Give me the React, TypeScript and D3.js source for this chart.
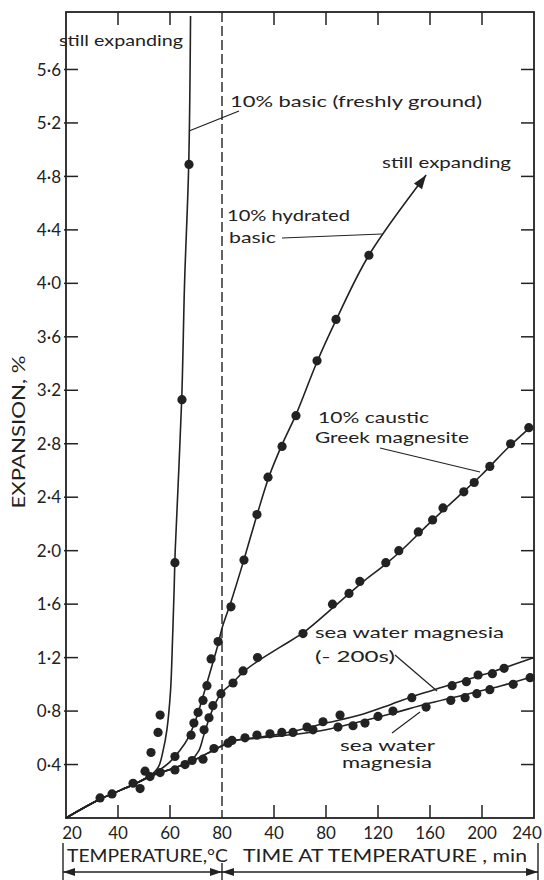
import React from "react";
import * as d3 from "d3";

const W = 544;
const H = 880;

// ---- axis ticks ----
const yTicks = [0.4, 0.8, 1.2, 1.6, 2.0, 2.4, 2.8, 3.2, 3.6, 4.0, 4.4, 4.8, 5.2, 5.6];
const yTickLabels = ["0·4", "0·8", "1·2", "1·6", "2·0", "2·4", "2·8", "3·2", "3·6", "4·0", "4·4", "4·8", "5·2", "5·6"];
const tempTicks = [20, 40, 60, 80];
const timeTicks = [40, 80, 120, 160, 200, 240];

type P = [number, number];

// ---- curves: heating phase (x = °C) then holding phase (x = min) ----
const basicLineHeat: P[] = [[20, 0], [33, 0.14], [46, 0.25], [52, 0.31], [55.5, 0.38], [57.3, 0.5], [58.8, 0.66], [60.2, 0.95], [61, 1.35], [61.6, 1.72], [62, 2.0], [64.5, 3.13], [65.6, 4.0], [67.2, 4.89], [67.9, 6.0]];
const basicPtsHeat: P[] = [[52.7, 0.49], [55.4, 0.64], [56.2, 0.77], [61.9, 1.91], [64.6, 3.13], [67.3, 4.89]];

const hydratedLineHeat: P[] = [[20, 0], [33, 0.14], [46, 0.25], [52, 0.31], [56, 0.36], [60, 0.42], [64, 0.51], [67, 0.6], [70, 0.74], [73, 0.93], [76, 1.13], [78.5, 1.3], [80, 1.42]];
const hydratedLineHold: P[] = [[7, 1.62], [16.5, 1.92], [27, 2.27], [36, 2.55], [46, 2.79], [57, 3.02], [73, 3.41], [88, 3.73], [113, 4.21], [157, 4.81]];
const hydratedPtsHeat: P[] = [[61.9, 0.46], [68.1, 0.62], [69.2, 0.71], [70.8, 0.79], [72.7, 0.88], [74.2, 0.99], [75.8, 1.19], [78.5, 1.32]];
const hydratedPtsHold: P[] = [[6.9, 1.58], [16.9, 1.93], [26.9, 2.27], [35.4, 2.55], [46.2, 2.78], [56.9, 3.01], [73.1, 3.42], [87.7, 3.73], [113, 4.21]];

const greekLineHeat: P[] = [[20, 0], [33, 0.14], [46, 0.25], [52, 0.31], [58, 0.35], [64, 0.39], [68, 0.43], [71, 0.5], [73, 0.62], [75, 0.74], [77, 0.84], [80, 0.94]];
const greekLineHold: P[] = [[8, 1.01], [16, 1.09], [27, 1.17], [45, 1.28], [63, 1.39], [85, 1.57], [98, 1.68], [110, 1.78], [126, 1.9], [140, 2.02], [160, 2.21], [180, 2.39], [200, 2.57], [220, 2.77], [238, 2.93]];
const greekPtsHeat: P[] = [[73.1, 0.66], [75, 0.75], [76.5, 0.84], [79.6, 0.93]];
const greekPtsHold: P[] = [[8.5, 1.01], [16.2, 1.1], [27.3, 1.2], [62.3, 1.38], [85, 1.6], [97.7, 1.68], [106, 1.77], [126, 1.91], [136, 2.0], [151, 2.14], [162, 2.23], [170, 2.32], [186, 2.44], [194, 2.51], [206, 2.63], [222, 2.8], [236, 2.92]];

const seaLineHeat: P[] = [[20, 0], [33, 0.14], [46, 0.25], [52, 0.31], [58, 0.35], [64, 0.39], [70, 0.44], [76, 0.5], [80, 0.54]];
const sea200LineHold: P[] = [[10, 0.58], [25, 0.6], [40, 0.62], [60, 0.66], [80, 0.71], [106, 0.77], [130, 0.85], [150, 0.92], [170, 0.98], [190, 1.04], [210, 1.1], [240, 1.2]];
const seaLineHold: P[] = [[10, 0.58], [25, 0.595], [40, 0.61], [60, 0.63], [80, 0.66], [106, 0.72], [130, 0.78], [160, 0.86], [190, 0.93], [215, 0.99], [240, 1.06]];
const seaPtsHeat: P[] = [[33.1, 0.15], [37.7, 0.18], [45.8, 0.26], [48.5, 0.22], [50.4, 0.35], [52.3, 0.31], [56.2, 0.34], [61.9, 0.36], [65.8, 0.4], [68.5, 0.43], [72.7, 0.44], [76.9, 0.52]];
const sea200PtsHold: P[] = [[7.7, 0.58], [26.9, 0.62], [46, 0.64], [65.4, 0.68], [77.7, 0.72], [90.8, 0.77], [146, 0.9], [177, 0.99], [188, 1.02], [197, 1.07], [208, 1.08], [217, 1.12]];
const seaPtsHold: P[] = [[4.6, 0.56], [17.7, 0.6], [36.9, 0.63], [54.6, 0.64], [70, 0.66], [89.2, 0.68], [100.8, 0.69], [110, 0.71], [120, 0.76], [131.5, 0.8], [157, 0.83], [176, 0.88], [187, 0.9], [196, 0.93], [206, 0.96], [224, 1.0], [237, 1.05]];

// unified horizontal coordinate: 20 °C ≙ -120, 80 °C ≙ 0 = start of holding time
const heatU = (T: number) => (T - 80) * 2;
const join = (heat: P[], hold: P[] = []): P[] => [
  ...heat.map(([T, v]) => [heatU(T), v] as P),
  ...hold.map(([t, v]) => [t, v] as P),
];

const x = d3.scaleLinear().domain([-120, 240]).range([66, 534]);
const y = d3.scaleLinear().domain([0, 6.03]).range([818, 12]);

const INK = "#222";
const FONT = "Lato, 'DejaVu Sans', sans-serif";

export default function App() {
  const line = d3
    .line<P>()
    .x((d) => x(d[0]))
    .y((d) => y(d[1]))
    .curve(d3.curveCatmullRom.alpha(0.5));

  const curves: P[][] = [
    join(basicLineHeat),
    join(hydratedLineHeat, hydratedLineHold),
    join(greekLineHeat, greekLineHold),
    join(seaLineHeat, sea200LineHold),
    join(seaLineHeat, seaLineHold),
  ];
  const points: P[] = [
    ...join(basicPtsHeat),
    ...join(hydratedPtsHeat, hydratedPtsHold),
    ...join(greekPtsHeat, greekPtsHold),
    ...join(seaPtsHeat, sea200PtsHold),
    ...join([], seaPtsHold),
  ];

  const x0 = x(-120);
  const x1 = x(240);
  const yTop = y(6.03);
  const yBot = y(0);
  const xDash = x(0);
  const innerTicksU = [heatU(40), heatU(60), 40, 80, 120, 160, 200];

  // arrow head for hydrated curve
  const hyd = join(hydratedLineHeat, hydratedLineHold);
  const tip = hyd[hyd.length - 1];
  const prev = hyd[hyd.length - 2];
  const tx = x(tip[0]), ty = y(tip[1]);
  const dx = tx - x(prev[0]), dy = ty - y(prev[1]);
  const len = Math.hypot(dx, dy);
  const ux = dx / len, uy = dy / len;
  const aL = 14, aW = 5;
  const bx = tx - ux * aL, by = ty - uy * aL;
  const arrowPts = `${tx},${ty} ${bx - uy * aW},${by + ux * aW} ${bx + uy * aW},${by - ux * aW}`;

  const tickLabelsX = [
    ...tempTicks.map((T, i) => ({ u: heatU(T), s: String(T), off: i === 0 ? 6 : 0 })),
    ...timeTicks.map((t, i) => ({ u: t, s: String(t), off: i === timeTicks.length - 1 ? -7 : 0 })),
  ];

  const yArrow = 872;

  return (
    <svg width={W} height={H} style={{ position: "absolute", left: 0, top: 0, background: "#fff" }} fontFamily={FONT}>
      <rect width={W} height={H} fill="#fff" />
      {/* frame */}
      <rect x={x0} y={yTop} width={x1 - x0} height={yBot - yTop} fill="none" stroke={INK} strokeWidth={1.8} />
      {/* y ticks left and right (inward) */}
      {yTicks.map((v, i) => (
        <g key={"yt" + i}>
          <line x1={x0 - 2} x2={x0 + 12} y1={y(v)} y2={y(v)} stroke={INK} strokeWidth={1.5} />
          <line x1={x1 - 13} x2={x1} y1={y(v)} y2={y(v)} stroke={INK} strokeWidth={1.5} />
          <text x={x0 - 5} y={y(v)} dy="0.36em" textAnchor="end" fontSize={17} fill={INK}>
            {yTickLabels[i]}
          </text>
        </g>
      ))}
      {/* x ticks top and bottom (inward) */}
      {innerTicksU.map((u, i) => (
        <g key={"xt" + i}>
          <line x1={x(u)} x2={x(u)} y1={yTop} y2={yTop + 13} stroke={INK} strokeWidth={1.5} />
          <line x1={x(u)} x2={x(u)} y1={yBot - 13} y2={yBot} stroke={INK} strokeWidth={1.5} />
        </g>
      ))}
      {tickLabelsX.map((d, i) => (
        <text key={"xl" + i} x={x(d.u) + d.off} y={839} textAnchor="middle" fontSize={17} fill={INK}>
          {d.s}
        </text>
      ))}
      {/* dashed 80 °C divider */}
      <line x1={xDash} x2={xDash} y1={yTop} y2={yBot} stroke={INK} strokeWidth={1.4} strokeDasharray="10,4" />

      {/* curves */}
      {curves.map((c, i) => (
        <path key={"c" + i} d={line(c) || ""} fill="none" stroke={INK} strokeWidth={1.6} />
      ))}
      <polygon points={arrowPts} fill={INK} />
      {points.map((p, i) => (
        <circle key={"p" + i} cx={x(p[0])} cy={y(p[1])} r={4.6} fill={INK} />
      ))}

      {/* annotations */}
      <g fill={INK} fontSize={16}>
        <text x={59} y={46} textLength={124} lengthAdjust="spacingAndGlyphs">still expanding</text>
        <text x={230} y={107} textLength={252} lengthAdjust="spacingAndGlyphs">10% basic (freshly ground)</text>
        <line x1={189} y1={131} x2={239} y2={111} stroke={INK} strokeWidth={1.2} />
        <text x={382} y={168} textLength={129} lengthAdjust="spacingAndGlyphs">still expanding</text>
        <text x={227} y={221} textLength={123} lengthAdjust="spacingAndGlyphs">10% hydrated</text>
        <text x={229} y={243} textLength={47} lengthAdjust="spacingAndGlyphs">basic</text>
        <line x1={282} y1={238} x2={382} y2={234} stroke={INK} strokeWidth={1.2} />
        <text x={318} y={423} textLength={111} lengthAdjust="spacingAndGlyphs">10% caustic</text>
        <text x={315} y={443} textLength={154} lengthAdjust="spacingAndGlyphs">Greek magnesite</text>
        <line x1={380} y1={448} x2={480} y2={472} stroke={INK} strokeWidth={1.2} />
        <text x={315} y={638} textLength={189} lengthAdjust="spacingAndGlyphs">sea water magnesia</text>
        <text x={315} y={662} textLength={80} lengthAdjust="spacingAndGlyphs">(- 200s)</text>
        <line x1={395} y1={655} x2={437} y2={691} stroke={INK} strokeWidth={1.2} />
        <text x={340} y={751} fontSize={15} textLength={95} lengthAdjust="spacingAndGlyphs">sea water</text>
        <text x={342} y={768} fontSize={15} textLength={90} lengthAdjust="spacingAndGlyphs">magnesia</text>
        <line x1={392} y1={733} x2={420} y2={712} stroke={INK} strokeWidth={1.2} />
      </g>

      {/* axis titles */}
      <text
        transform={`translate(24.5,${432}) rotate(-90)`}
        textAnchor="middle"
        fontSize={17}
        fill={INK}
        textLength={153}
        lengthAdjust="spacingAndGlyphs"
      >
        EXPANSION, %
      </text>
      <text x={67} y={862} fontSize={17} fill={INK} textLength={161} lengthAdjust="spacingAndGlyphs">
        TEMPERATURE,°C
      </text>
      <text x={243} y={862} fontSize={17} fill={INK} textLength={284} lengthAdjust="spacingAndGlyphs">
        TIME AT TEMPERATURE , min
      </text>

      {/* range arrows */}
      <g stroke={INK} strokeWidth={1.4}>
        <line x1={63} x2={538} y1={yArrow} y2={yArrow} />
        <line x1={63} x2={63} y1={843} y2={880} />
        <line x1={xDash} x2={xDash} y1={863} y2={880} />
        <line x1={538} x2={538} y1={843} y2={880} />
      </g>
      <g fill={INK}>
        <polygon points={`63,${yArrow} 75,${yArrow - 4} 75,${yArrow + 4}`} />
        <polygon points={`${xDash},${yArrow} ${xDash - 12},${yArrow - 4} ${xDash - 12},${yArrow + 4}`} />
        <polygon points={`${xDash},${yArrow} ${xDash + 12},${yArrow - 4} ${xDash + 12},${yArrow + 4}`} />
        <polygon points={`538,${yArrow} 526,${yArrow - 4} 526,${yArrow + 4}`} />
      </g>
    </svg>
  );
}
